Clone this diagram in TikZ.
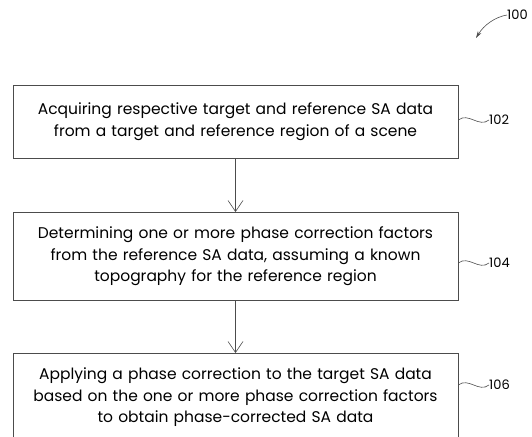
\documentclass[tikz,border=0pt]{standalone}
\usepackage{fontspec}
\setmainfont{Poppins}
\usetikzlibrary{arrows.meta}

\begin{document}
\begin{tikzpicture}[x=1pt, y=-1pt,
		stepbox/.style={draw=black!70, line width=0.6pt, minimum width=445pt, text width=435pt,
				align=center, anchor=north, inner sep=0pt, font=\fontsize{15.5}{21.5}\selectfont},
		refnum/.style={anchor=west, inner sep=0pt, font=\fontsize{13}{13}\selectfont},
		leader/.style={draw=black!70, line width=0.6pt},
		flow/.style={draw=black!70, line width=0.6pt, -{Straight Barb[length=11pt, width=15pt]}}]

		\useasboundingbox (0,0) rectangle (532,436);

		% Draw each step as a box with its reference number
		\foreach \name/\top/\h/\txt/\num/\ny in {
				s102/85/73/{Acquiring respective target and reference SA data\\from a target and reference region of a scene}/102/120,
				s104/212/88/{Determining one or more phase correction factors\\from the reference SA data, assuming a known\\topography for the reference region}/104/263,
				s106/353/88/{Applying a phase correction to the target SA data\\based on the one or more phase correction factors\\to obtain phase-corrected SA data}/106/385
			} {
				\node[stepbox, minimum height=\h pt] (\name) at (235.5,\top) {\txt};
				\node[refnum] (n\num) at (489,\ny) {\num};
				\draw[leader] (\name.east |- n\num.west) .. controls +(10,-8) and +(-10,8) .. (n\num.west);
			}

		% Flow between the steps
		\draw[flow] (s102.south) -- (s104.north);
		\draw[flow] (s104.south) -- (s106.north);

		% Figure number
		\node[refnum] (n100) at (507,15) {100};
		\coordinate (tip100) at (476,38);
		\draw[leader, -{Stealth[length=7pt, width=4pt]}] (n100.west) .. controls (495,17) and (484,25) .. (tip100);

	\end{tikzpicture}
\end{document}
